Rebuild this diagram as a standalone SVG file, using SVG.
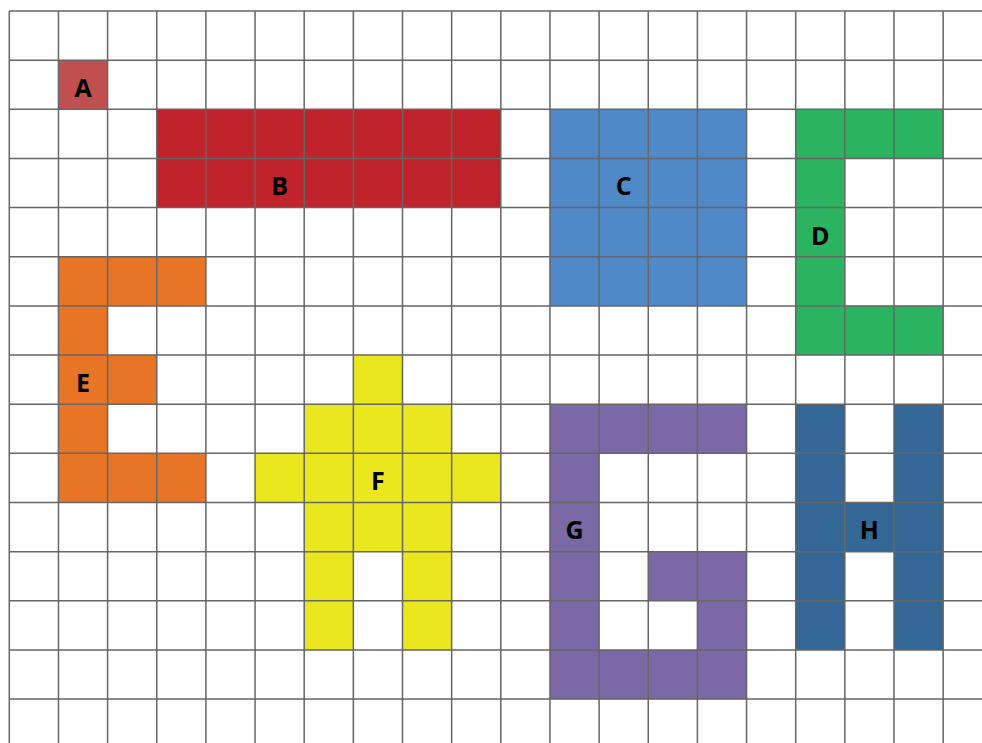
<svg xmlns="http://www.w3.org/2000/svg" width="982" height="743" viewBox="0 0 982 743">
<style>
.lbl{font-family:"Open Sans","Noto Sans","DejaVu Sans",sans-serif;font-weight:700;font-size:25px;fill:#000;text-anchor:middle}
.grid{stroke:#666;stroke-width:1.5;fill:none}
</style>
<rect width="982" height="743" fill="#fff"/>
<g id="A" fill="#c0504f">
<rect x="58.45" y="60.15" width="49.15" height="49.15"/>
<text class="lbl" x="83" y="97">A</text>
</g>
<g id="B" fill="#c1232a">
<rect x="156.75" y="109.3" width="344.05" height="98.3"/>
<text class="lbl" x="279.6" y="195.3">B</text>
</g>
<g id="C" fill="#4f89c7">
<rect x="549.95" y="109.3" width="196.6" height="196.6"/>
<text class="lbl" x="623.7" y="195.3">C</text>
</g>
<g id="D" fill="#2bb45f">
<rect x="795.7" y="109.3" width="147.45" height="49.15"/>
<rect x="795.7" y="158.45" width="49.15" height="147.45"/>
<rect x="795.7" y="305.9" width="147.45" height="49.15"/>
<text class="lbl" x="820.3" y="244.5">D</text>
</g>
<g id="E" fill="#e87426">
<rect x="58.45" y="256.75" width="147.45" height="49.15"/>
<rect x="58.45" y="305.9" width="49.15" height="147.45"/>
<rect x="107.6" y="355.05" width="49.15" height="49.15"/>
<rect x="58.45" y="453.35" width="147.45" height="49.15"/>
<text class="lbl" x="83" y="391.9">E</text>
</g>
<g id="F" fill="#ebe71f">
<rect x="353.35" y="355.05" width="49.15" height="49.15"/>
<rect x="304.2" y="404.2" width="147.45" height="49.15"/>
<rect x="255.05" y="453.35" width="245.75" height="49.15"/>
<rect x="304.2" y="502.5" width="147.45" height="49.15"/>
<rect x="304.2" y="551.65" width="49.15" height="98.3"/>
<rect x="402.5" y="551.65" width="49.15" height="98.3"/>
<text class="lbl" x="377.9" y="490.2">F</text>
</g>
<g id="G" fill="#7b68a7">
<rect x="549.95" y="404.2" width="196.6" height="49.15"/>
<rect x="549.95" y="453.35" width="49.15" height="196.6"/>
<rect x="648.25" y="551.65" width="98.3" height="49.15"/>
<rect x="697.4" y="600.8" width="49.15" height="49.15"/>
<rect x="549.95" y="649.95" width="196.6" height="49.15"/>
<text class="lbl" x="574.5" y="539.4">G</text>
</g>
<g id="H" fill="#336896">
<rect x="795.7" y="404.2" width="49.15" height="245.75"/>
<rect x="894" y="404.2" width="49.15" height="245.75"/>
<rect x="844.85" y="502.5" width="49.15" height="49.15"/>
<text class="lbl" x="869.4" y="539.4">H</text>
</g>
<g id="grid">
<path class="grid" d="M9.3 11V743M58.45 11V743M107.6 11V743M156.75 11V743M205.9 11V743M255.05 11V743M304.2 11V743M353.35 11V743M402.5 11V743M451.65 11V743M500.8 11V743M549.95 11V743M599.1 11V743M648.25 11V743M697.4 11V743M746.55 11V743M795.7 11V743M844.85 11V743M894 11V743M943.15 11V743M9.3 11H982M9.3 60.15H982M9.3 109.3H982M9.3 158.45H982M9.3 207.6H982M9.3 256.75H982M9.3 305.9H982M9.3 355.05H982M9.3 404.2H982M9.3 453.35H982M9.3 502.5H982M9.3 551.65H982M9.3 600.8H982M9.3 649.95H982M9.3 699.1H982"/>
</g>
</svg>
